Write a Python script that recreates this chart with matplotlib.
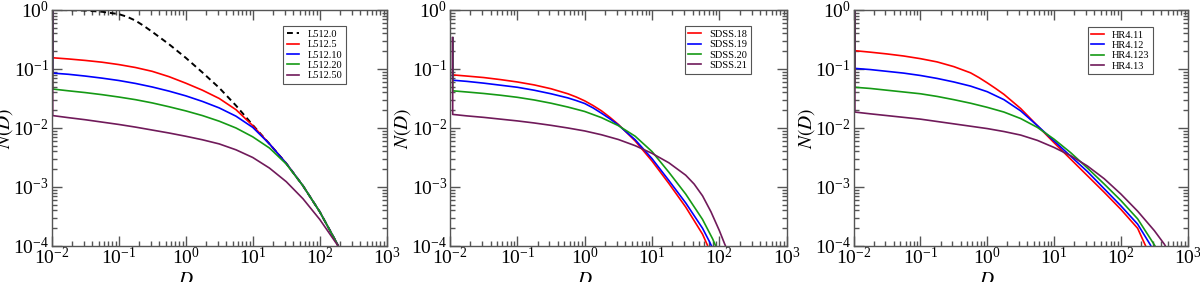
import matplotlib as mpl
import matplotlib.pyplot as plt
from matplotlib.ticker import LogLocator, NullFormatter

mpl.rcParams['font.family'] = ['Liberation Serif', 'DejaVu Serif']
mpl.rcParams['mathtext.fontset'] = 'stix'

RED, BLUE, GREEN, PURPLE = '#ff0000', '#0000ff', '#159a15', '#701a5a'
FRAME = '#555555'

# all values are log10 of D and log10 of N(D)
# panel 1 : L512 set
l512_labels = ['L512.0', 'L512.5', 'L512.10', 'L512.20', 'L512.50']
l512_0_logD = [-2.0, -1.75, -1.5, -1.25, -1.0, -0.875, -0.75, -0.625, -0.5, -0.25, 0.0, 0.25, 0.5, 0.75, 1.0,
               1.25, 1.5, 1.75, 2.0, 2.25, 2.3]
l512_0_logN = [0.0, -0.003, -0.01, -0.03, -0.07, -0.115, -0.18, -0.27, -0.37, -0.58, -0.81, -1.06, -1.32, -1.62, -1.95,
               -2.27, -2.60, -2.98, -3.42, -3.94, -4.06]
l512_5_logD = [-1.985, -1.985, -1.75, -1.5, -1.25, -1.0, -0.75, -0.5, -0.25, 0.0, 0.25, 0.5, 0.75, 1.0,
               1.25, 1.5, 1.75, 2.0, 2.25, 2.3]
l512_5_logN = [0.0, -0.81, -0.83, -0.855, -0.885, -0.925, -0.975, -1.04, -1.13, -1.24, -1.36, -1.50, -1.69, -1.96,
               -2.27, -2.60, -2.98, -3.42, -3.94, -4.06]
l512_10_logD = [-1.985, -1.985, -1.75, -1.5, -1.25, -1.0, -0.75, -0.5, -0.25, 0.0, 0.25, 0.5, 0.75, 1.0,
                1.25, 1.5, 1.75, 2.0, 2.25, 2.3]
l512_10_logN = [0.0, -1.07, -1.09, -1.12, -1.155, -1.195, -1.245, -1.305, -1.375, -1.455, -1.55, -1.66, -1.80, -1.99,
                -2.27, -2.60, -2.98, -3.42, -3.94, -4.06]
l512_20_logD = [-1.985, -1.985, -1.75, -1.5, -1.25, -1.0, -0.75, -0.5, -0.25, 0.0, 0.25, 0.5, 0.75, 1.0,
                1.25, 1.5, 1.75, 2.0, 2.25, 2.3]
l512_20_logN = [0.0, -1.34, -1.37, -1.40, -1.435, -1.475, -1.52, -1.575, -1.64, -1.71, -1.79, -1.885, -2.00, -2.15,
                -2.34, -2.61, -2.98, -3.42, -3.94, -4.06]
l512_50_logD = [-1.985, -1.985, -1.75, -1.5, -1.25, -1.0, -0.75, -0.5, -0.25, 0.0, 0.25, 0.5, 0.75, 1.0,
                1.25, 1.5, 1.75, 2.0, 2.25, 2.3]
l512_50_logN = [0.0, -1.79, -1.825, -1.86, -1.90, -1.94, -1.985, -2.035, -2.085, -2.14, -2.20, -2.27, -2.37, -2.50,
                -2.68, -2.91, -3.20, -3.55, -3.96, -4.05]

# panel 2 : SDSS set
sdss_labels = ['SDSS.18', 'SDSS.19', 'SDSS.20', 'SDSS.21']
sdss_18_logD = [-1.96, -1.96, -1.75, -1.5, -1.25, -1.0, -0.75, -0.5, -0.25, -0.125, 0.0, 0.125, 0.25, 0.375, 0.5,
                0.75, 1.0, 1.25, 1.5, 1.75, 1.82, 1.85]
sdss_18_logN = [-0.47, -1.10, -1.12, -1.145, -1.18, -1.22, -1.27, -1.335, -1.42, -1.475, -1.54, -1.62, -1.71, -1.82,
                -1.94, -2.22, -2.56, -2.94, -3.34, -3.80, -3.98, -4.08]
sdss_19_logD = [-1.96, -1.96, -1.75, -1.5, -1.25, -1.0, -0.75, -0.5, -0.25, -0.125, 0.0, 0.125, 0.25, 0.375, 0.5,
                0.75, 1.0, 1.25, 1.5, 1.75, 1.85, 1.9]
sdss_19_logN = [-0.47, -1.19, -1.21, -1.24, -1.275, -1.31, -1.36, -1.42, -1.49, -1.535, -1.585, -1.66, -1.75, -1.845,
                -1.95, -2.20, -2.52, -2.89, -3.27, -3.70, -3.92, -4.04]
sdss_20_logD = [-1.96, -1.96, -1.75, -1.5, -1.25, -1.0, -0.75, -0.5, -0.25, 0.0, 0.25, 0.5, 0.75, 1.0,
                1.25, 1.5, 1.75, 1.9, 1.96]
sdss_20_logN = [-0.47, -1.37, -1.39, -1.415, -1.445, -1.48, -1.525, -1.58, -1.645, -1.72, -1.825, -1.96, -2.14, -2.40,
                -2.75, -3.12, -3.55, -3.88, -4.04]
sdss_21_logD = [-1.96, -1.96, -1.75, -1.5, -1.25, -1.0, -0.75, -0.5, -0.25, 0.0, 0.25, 0.5, 0.75, 1.0,
                1.25, 1.5, 1.625, 1.75, 1.875, 2.0, 2.08, 2.11]
sdss_21_logN = [-0.47, -1.77, -1.795, -1.82, -1.85, -1.88, -1.915, -1.955, -2.00, -2.05, -2.115, -2.195, -2.30, -2.43,
                -2.59, -2.80, -2.95, -3.15, -3.42, -3.74, -3.97, -4.05]

# panel 3 : HR4 set
hr4_labels = ['HR4.11', 'HR4.12', 'HR4.123', 'HR4.13']
hr4_11_logD = [-1.98, -1.98, -1.75, -1.5, -1.25, -1.0, -0.75, -0.5, -0.25, -0.125, 0.0, 0.125, 0.25, 0.5, 0.75, 1.0,
               1.25, 1.5, 1.75, 2.0, 2.25, 2.37, 2.4]
hr4_11_logN = [0.0, -0.69, -0.715, -0.745, -0.78, -0.825, -0.88, -0.96, -1.065, -1.145, -1.235, -1.33, -1.43, -1.67,
               -1.96, -2.25, -2.53, -2.81, -3.09, -3.38, -3.70, -4.0, -4.08]
hr4_12_logD = [-1.98, -1.98, -1.75, -1.5, -1.25, -1.0, -0.75, -0.5, -0.25, 0.0, 0.25, 0.5, 0.75, 1.0,
               1.25, 1.5, 1.75, 2.0, 2.25, 2.44, 2.47]
hr4_12_logN = [0.0, -0.99, -1.01, -1.04, -1.07, -1.11, -1.16, -1.22, -1.29, -1.385, -1.52, -1.71, -1.96, -2.22,
               -2.48, -2.74, -3.03, -3.32, -3.63, -3.98, -4.05]
hr4_123_logD = [-1.98, -1.98, -1.75, -1.5, -1.25, -1.0, -0.75, -0.5, -0.25, 0.0, 0.25, 0.5, 0.75, 1.0,
                1.25, 1.5, 1.75, 2.0, 2.25, 2.5, 2.54]
hr4_123_logN = [0.0, -1.31, -1.33, -1.36, -1.39, -1.42, -1.465, -1.52, -1.58, -1.65, -1.73, -1.84, -1.99, -2.19,
                -2.42, -2.68, -2.95, -3.23, -3.54, -3.98, -4.06]
hr4_13_logD = [-1.98, -1.98, -1.75, -1.5, -1.25, -1.0, -0.75, -0.5, -0.25, 0.0, 0.25, 0.5, 0.75, 1.0,
               1.25, 1.5, 1.75, 2.0, 2.25, 2.5, 2.65, 2.68]
hr4_13_logN = [0.0, -1.73, -1.76, -1.79, -1.82, -1.85, -1.89, -1.93, -1.97, -2.01, -2.06, -2.12, -2.21, -2.33,
               -2.47, -2.645, -2.86, -3.12, -3.41, -3.74, -3.97, -4.03]

xticks = [1e-2, 1e-1, 1e0, 1e1, 1e2, 1e3]
yticks = [1e-4, 1e-3, 1e-2, 1e-1, 1e0]


def pw(v):
    return [10.0 ** a for a in v]


def style_axis(ax):
    ax.set_xscale('log')
    ax.set_yscale('log')
    ax.set_xlim(1e-2, 1e3)
    ax.set_ylim(1e-4, 1e0)
    ax.set_xticks(xticks)
    ax.set_yticks(yticks)
    ax.xaxis.set_minor_locator(LogLocator(base=10, subs=range(2, 10), numticks=20))
    ax.yaxis.set_minor_locator(LogLocator(base=10, subs=range(2, 10), numticks=20))
    ax.xaxis.set_minor_formatter(NullFormatter())
    ax.yaxis.set_minor_formatter(NullFormatter())
    for s in ax.spines.values():
        s.set_color(FRAME)
        s.set_linewidth(1.0)
    ax.tick_params(which='both', direction='in', top=True, right=True, color=FRAME, width=1.0)
    ax.tick_params(which='major', length=7, labelsize=14)
    ax.tick_params(which='minor', length=3.5)
    ax.tick_params(axis='x', which='major', pad=1)
    ax.tick_params(axis='y', which='major', pad=2)
    ax.set_xlabel('$D$', fontsize=14)
    ax.set_ylabel('$N(D)$', fontsize=14)
    ax.xaxis.set_label_coords(0.40, -0.11)
    ax.yaxis.set_label_coords(-0.11, 0.5)


def add_legend(ax, x0, y0):
    leg = ax.legend(loc='upper left', bbox_to_anchor=(x0, y0), borderaxespad=0,
                    fontsize=7.5, frameon=True, fancybox=False, framealpha=1,
                    edgecolor=FRAME, handlelength=1.2, handletextpad=0.8,
                    labelspacing=0.1, borderpad=0.35)
    leg.get_frame().set_linewidth(0.8)


fig = plt.figure(figsize=(12, 2.82), dpi=100)
ax1 = fig.add_axes([0.0431, 0.1277, 0.2792, 0.8369])
ax2 = fig.add_axes([0.375, 0.1277, 0.2806, 0.8369])
ax3 = fig.add_axes([0.7113, 0.1277, 0.2785, 0.8369])

lw = 1.2
ax1.plot(pw(l512_0_logD), pw(l512_0_logN), color='black', lw=1.4, ls=(0, (3, 2)), label=l512_labels[0])
ax1.plot(pw(l512_5_logD), pw(l512_5_logN), color=RED, lw=lw, label=l512_labels[1])
ax1.plot(pw(l512_10_logD), pw(l512_10_logN), color=BLUE, lw=lw, label=l512_labels[2])
ax1.plot(pw(l512_20_logD), pw(l512_20_logN), color=GREEN, lw=lw, label=l512_labels[3])
ax1.plot(pw(l512_50_logD), pw(l512_50_logN), color=PURPLE, lw=lw, label=l512_labels[4])
style_axis(ax1)
add_legend(ax1, 0.69, 0.932)

ax2.plot(pw(sdss_18_logD), pw(sdss_18_logN), color=RED, lw=lw, label=sdss_labels[0])
ax2.plot(pw(sdss_19_logD), pw(sdss_19_logN), color=BLUE, lw=lw, label=sdss_labels[1])
ax2.plot(pw(sdss_20_logD), pw(sdss_20_logN), color=GREEN, lw=lw, label=sdss_labels[2])
ax2.plot(pw(sdss_21_logD), pw(sdss_21_logN), color=PURPLE, lw=lw, label=sdss_labels[3])
style_axis(ax2)
add_legend(ax2, 0.697, 0.932)

ax3.plot(pw(hr4_11_logD), pw(hr4_11_logN), color=RED, lw=lw, label=hr4_labels[0])
ax3.plot(pw(hr4_12_logD), pw(hr4_12_logN), color=BLUE, lw=lw, label=hr4_labels[1])
ax3.plot(pw(hr4_123_logD), pw(hr4_123_logN), color=GREEN, lw=lw, label=hr4_labels[2])
ax3.plot(pw(hr4_13_logD), pw(hr4_13_logN), color=PURPLE, lw=lw, label=hr4_labels[3])
style_axis(ax3)
add_legend(ax3, 0.70, 0.929)

fig.savefig('out.png', dpi=100)
plt.close(fig)
